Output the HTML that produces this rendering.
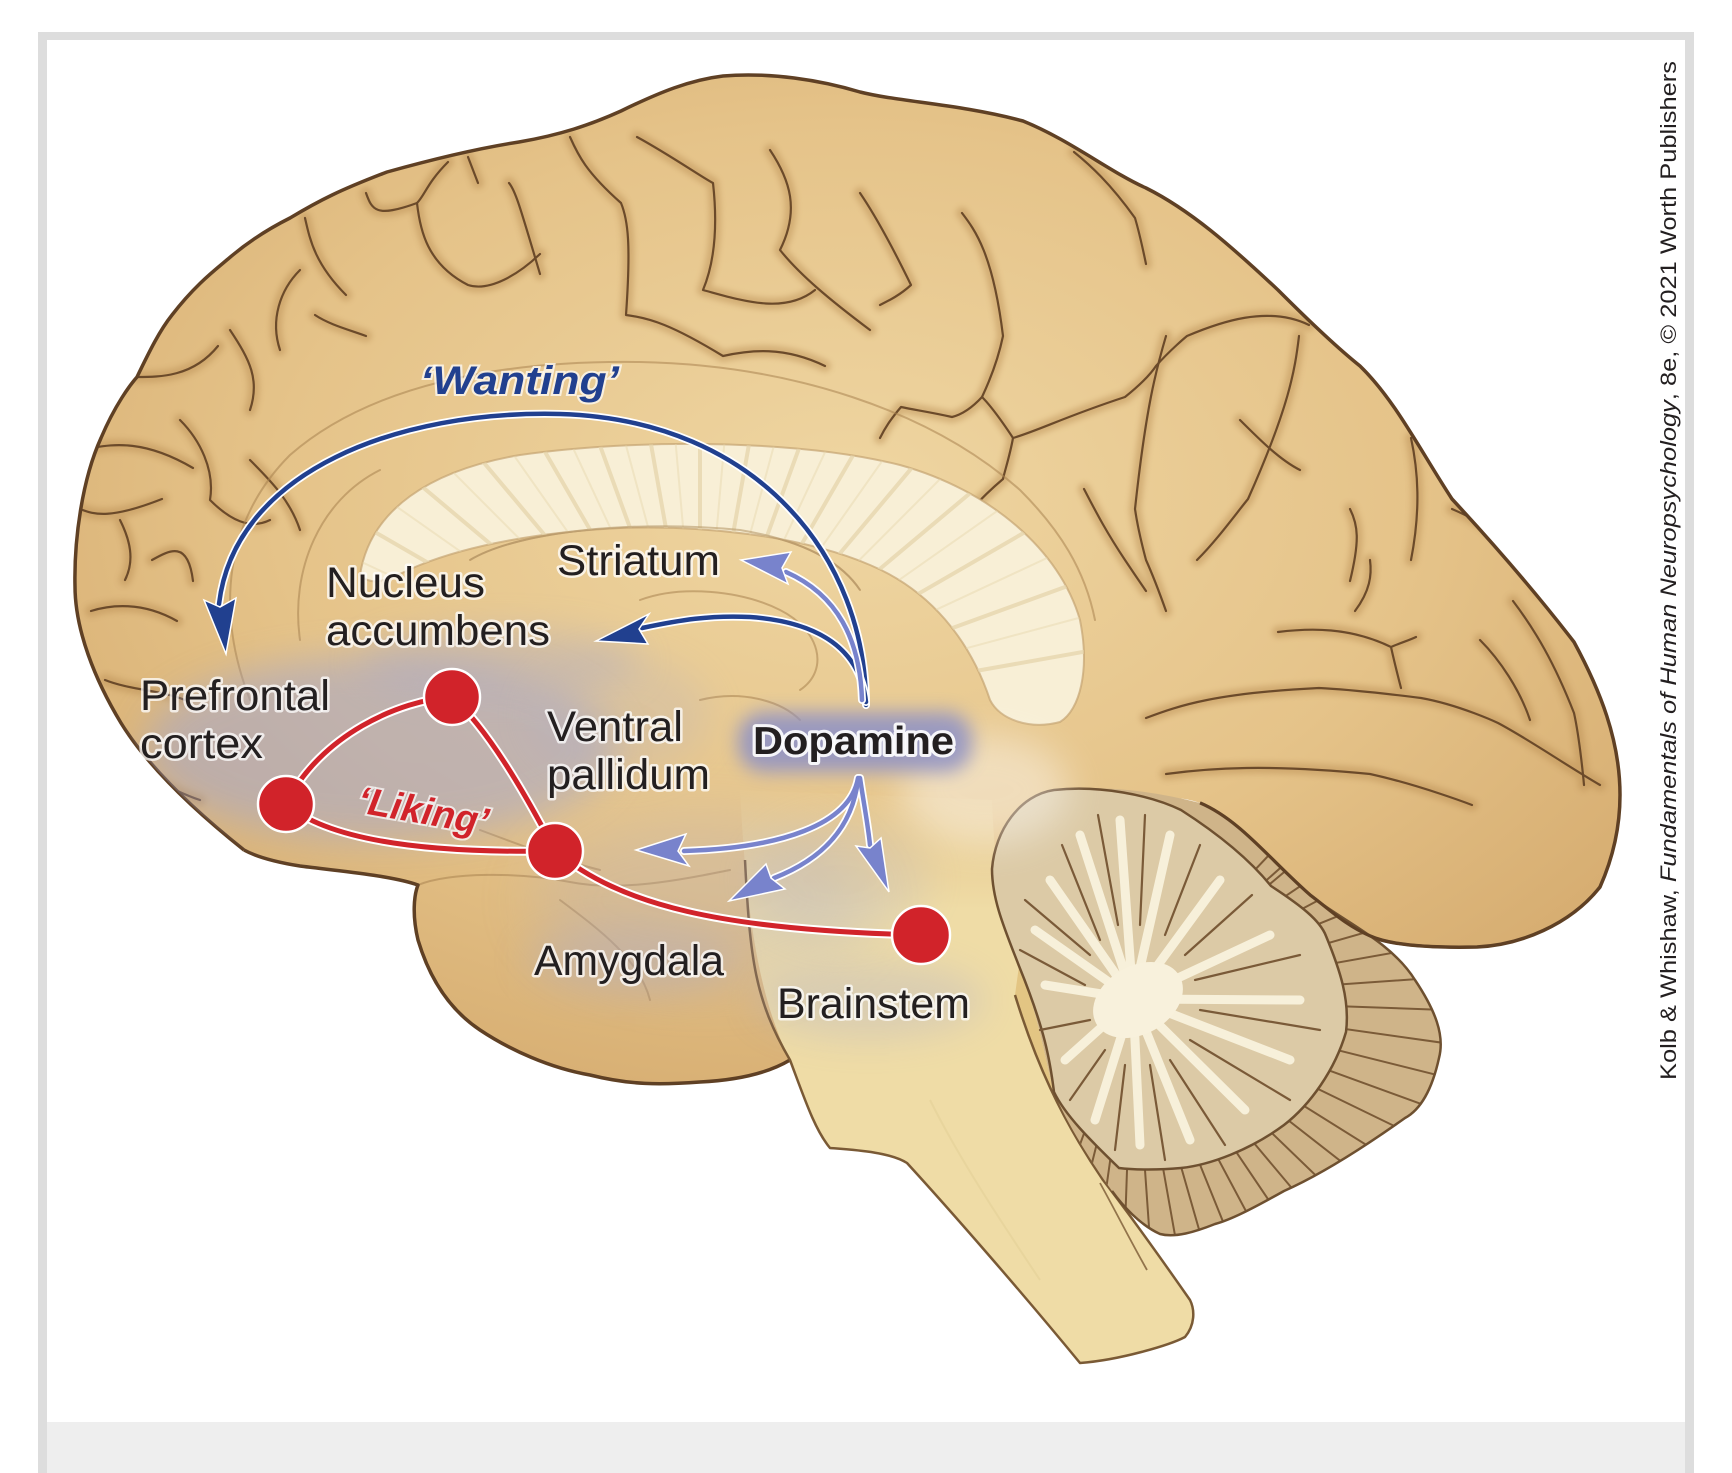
<!DOCTYPE html>
<html>
<head>
<meta charset="utf-8">
<style>
  html,body{margin:0;padding:0;background:#fff;}
  body{width:1732px;height:1473px;overflow:hidden;position:relative;}
  svg{position:absolute;left:0;top:0;display:block;}
  .lbl{font-family:"Liberation Sans Narrow","Liberation Sans",sans-serif;fill:#231f20;stroke:#ffffff;stroke-opacity:0.75;stroke-width:5;stroke-linejoin:round;paint-order:stroke;}
</style>
</head>
<body>
<svg xmlns="http://www.w3.org/2000/svg" width="1732" height="1473" viewBox="0 0 1732 1473">
<defs>
  <filter id="b3" x="-20%" y="-20%" width="140%" height="140%"><feGaussianBlur stdDeviation="3"/></filter>
  <filter id="b9" x="-50%" y="-50%" width="200%" height="200%"><feGaussianBlur stdDeviation="9"/></filter>
  <filter id="b18" x="-60%" y="-60%" width="220%" height="220%"><feGaussianBlur stdDeviation="18"/></filter>
  <filter id="b28" x="-60%" y="-60%" width="220%" height="220%"><feGaussianBlur stdDeviation="28"/></filter>
  <radialGradient id="cg" cx="0.5" cy="0.42" r="0.62">
    <stop offset="0" stop-color="#efd6a2"/>
    <stop offset="0.6" stop-color="#e5c389"/>
    <stop offset="1" stop-color="#d7ae72"/>
  </radialGradient>
  <linearGradient id="bsg" gradientUnits="userSpaceOnUse" x1="0" y1="780" x2="0" y2="910">
    <stop offset="0" stop-color="#efdca6" stop-opacity="0"/>
    <stop offset="1" stop-color="#efdca6" stop-opacity="1"/>
  </linearGradient>
  <clipPath id="cerClip">
    <path d="M244,850 C200,815 150,770 121,723 C95,680 75,630 75,586 C74,540 82,480 101,438 C115,405 130,385 137,377 C150,350 160,330 172,315 C195,285 215,270 228,259 C250,240 270,228 290,218 C320,200 340,190 387,172 C430,160 480,148 519,142 C560,135 590,125 621,111 C660,92 690,80 723,76 C770,72 820,80 860,92 C900,102 960,104 1023,121 C1070,140 1110,172 1146,188 C1190,210 1230,245 1278,290 C1310,322 1340,350 1360,366 C1395,400 1420,450 1452,499 C1490,540 1530,585 1574,642 C1600,690 1620,740 1620,795 C1620,830 1612,860 1600,887 C1570,925 1520,945 1477,947 C1430,948 1390,945 1370,936 C1345,925 1330,910 1310,895 C1270,860 1240,820 1200,803 C1150,785 1120,820 1100,870 L1030,1000 L900,1000 L790,1060 C770,1072 740,1080 700,1082 C660,1085 630,1085 590,1075 C550,1068 510,1050 480,1030 C450,1010 430,980 418,940 C412,915 414,895 418,885 C390,875 330,870 300,866 C275,862 255,856 244,850 Z"/>
  </clipPath>
  <clipPath id="brainClip">
    <path d="M244,850 C200,815 150,770 121,723 C95,680 75,630 75,586 C74,540 82,480 101,438 C115,405 130,385 137,377 C150,350 160,330 172,315 C195,285 215,270 228,259 C250,240 270,228 290,218 C320,200 340,190 387,172 C430,160 480,148 519,142 C560,135 590,125 621,111 C660,92 690,80 723,76 C770,72 820,80 860,92 C900,102 960,104 1023,121 C1070,140 1110,172 1146,188 C1190,210 1230,245 1278,290 C1310,322 1340,350 1360,366 C1395,400 1420,450 1452,499 C1490,540 1530,585 1574,642 C1600,690 1620,740 1620,795 C1620,830 1612,860 1600,887 C1570,925 1520,945 1477,947 C1430,948 1390,945 1370,936 C1345,925 1330,910 1310,895 C1270,860 1240,820 1200,803 C1150,785 1120,820 1100,870 L1030,1000 L900,1000 L790,1060 C770,1072 740,1080 700,1082 C660,1085 630,1085 590,1075 C550,1068 510,1050 480,1030 C450,1010 430,980 418,940 C412,915 414,895 418,885 C390,875 330,870 300,866 C275,862 255,856 244,850 Z"/>
    <path d="M740,790 C745,880 752,985 790,1060 C805,1100 815,1130 830,1148 C855,1150 890,1152 907,1163 C950,1210 1020,1290 1080,1363 C1120,1360 1170,1345 1185,1337 C1195,1325 1195,1310 1190,1300 C1160,1257 1135,1220 1115,1192 C1090,1160 1065,1120 1054,1092 C1045,1060 1040,1020 1019,966 C1005,930 995,880 992,800 Z"/>
    <path d="M1054,790 C1100,785 1150,790 1200,803 C1240,820 1270,860 1310,895 C1340,920 1390,940 1415,980 C1435,1010 1445,1035 1439,1058 C1432,1090 1420,1110 1405,1118 C1360,1150 1320,1175 1284,1191 C1250,1210 1230,1220 1215,1224 C1195,1232 1175,1238 1160,1234 C1140,1225 1122,1205 1112,1191 C1090,1160 1065,1120 1054,1092 C1045,1060 1040,1020 1019,966 C1005,930 992,900 992,869 C995,830 1020,795 1054,790 Z"/>
  </clipPath>
  <clipPath id="paleClip">
    <path d="M360,575 C370,510 430,470 520,455 C640,438 800,440 900,465 C990,490 1060,550 1080,620 C1090,670 1080,710 1060,722 C1030,730 1000,720 990,700 C970,640 930,590 870,565 C800,535 700,525 620,528 C540,532 470,545 420,565 C395,575 375,590 360,575 Z"/>
  </clipPath>
  <clipPath id="cbClip">
    <path d="M1054,790 C1100,785 1150,790 1200,803 C1240,820 1270,860 1310,895 C1340,920 1390,940 1415,980 C1435,1010 1445,1035 1439,1058 C1432,1090 1420,1110 1405,1118 C1360,1150 1320,1175 1284,1191 C1250,1210 1230,1220 1215,1224 C1195,1232 1175,1238 1160,1234 C1140,1225 1122,1205 1112,1191 C1090,1160 1065,1120 1054,1092 C1045,1060 1040,1020 1019,966 C1005,930 992,900 992,869 C995,830 1020,795 1054,790 Z"/>
  </clipPath>
</defs>

<!-- frame -->
<rect x="38" y="32" width="1656" height="1441" fill="#dddddd"/>
<rect x="47" y="40" width="1638" height="1382" fill="#ffffff"/>
<rect x="47" y="1422" width="1638" height="51" fill="#eeeeee"/>

<!-- cerebrum -->
<path d="M244,850 C200,815 150,770 121,723 C95,680 75,630 75,586 C74,540 82,480 101,438 C115,405 130,385 137,377 C150,350 160,330 172,315 C195,285 215,270 228,259 C250,240 270,228 290,218 C320,200 340,190 387,172 C430,160 480,148 519,142 C560,135 590,125 621,111 C660,92 690,80 723,76 C770,72 820,80 860,92 C900,102 960,104 1023,121 C1070,140 1110,172 1146,188 C1190,210 1230,245 1278,290 C1310,322 1340,350 1360,366 C1395,400 1420,450 1452,499 C1490,540 1530,585 1574,642 C1600,690 1620,740 1620,795 C1620,830 1612,860 1600,887 C1570,925 1520,945 1477,947 C1430,948 1390,945 1370,936 C1345,925 1330,910 1310,895 C1270,860 1240,820 1200,803 C1150,785 1120,820 1100,870 L1030,1000 L900,1000 L790,1060 C770,1072 740,1080 700,1082 C660,1085 630,1085 590,1075 C550,1068 510,1050 480,1030 C450,1010 430,980 418,940 C412,915 414,895 418,885 C390,875 330,870 300,866 C275,862 255,856 244,850 Z" fill="url(#cg)"/>

<!-- sulci shading -->
<g clip-path="url(#cerClip)" fill="none" stroke-linecap="round" stroke-linejoin="round">
  <g stroke="#b98d52" stroke-width="12" opacity="0.45" filter="url(#b3)">
    <path d="M305,218 C310,240 315,264 346,295"/>
    <path d="M366,193 C372,210 376,218 417,203 C425,195 427,183 448,162"/>
    <path d="M417,203 C420,230 427,264 468,285 C490,292 519,274 540,254"/>
    <path d="M509,183 C515,190 519,203 540,274"/>
    <path d="M468,157 L478,183"/>
    <path d="M315,315 C330,325 350,330 366,336"/>
    <path d="M570,137 C578,155 586,172 621,203 C628,220 631,244 626,315 C650,318 672,325 723,356 C750,350 784,346 825,366"/>
    <path d="M637,137 C670,155 703,178 713,183 C716,210 718,254 703,290 C740,300 784,315 815,290"/>
    <path d="M137,377 C160,377 193,377 218,346"/>
    <path d="M91,448 C110,445 142,438 193,468"/>
    <path d="M80,509 C95,515 111,519 162,499"/>
    <path d="M91,611 C110,605 142,601 177,621"/>
    <path d="M152,560 C170,550 188,540 193,581"/>
    <path d="M860,193 C875,215 891,244 911,285 C900,295 890,300 880,305"/>
    <path d="M962,213 C975,230 993,254 1003,336 C998,360 990,380 982,397 C970,410 960,415 952,417 C930,412 915,410 901,407 C890,420 885,428 880,438"/>
    <path d="M982,397 C995,410 1013,438 1013,438 C1010,455 1005,470 1003,479 C990,490 980,500 972,509"/>
    <path d="M1013,438 C1040,430 1064,417 1125,397 C1140,385 1150,375 1156,366 C1170,350 1187,336 1187,336 C1220,322 1268,305 1309,325"/>
    <path d="M1166,336 C1156,370 1146,407 1135,509 C1138,530 1146,560 1146,560 C1155,580 1166,611 1166,611"/>
    <path d="M1074,152 C1090,165 1110,183 1135,218 C1140,235 1146,264 1146,264"/>
    <path d="M1084,489 C1095,510 1105,530 1125,560 C1135,575 1146,591 1146,591"/>
    <path d="M1299,336 C1295,370 1289,407 1248,499 C1235,515 1217,540 1197,560"/>
    <path d="M1350,509 C1358,525 1360,540 1350,581"/>
    <path d="M1411,438 C1418,470 1421,509 1411,560"/>
    <path d="M1452,509 C1490,525 1523,550 1539,591"/>
    <path d="M1278,632 C1310,628 1350,627 1391,647 C1400,643 1410,640 1416,637 M1391,647 C1395,665 1401,688 1401,688"/>
    <path d="M1146,718 C1180,705 1217,693 1319,688 C1360,690 1421,698 1421,698 C1460,705 1498,723 1498,723 C1530,740 1564,764 1600,785"/>
    <path d="M1513,601 C1535,630 1554,662 1574,713 C1580,740 1584,785 1584,785"/>
    <path d="M1166,774 C1210,768 1268,764 1370,774 C1420,785 1472,805 1472,805"/>
    <path d="M1370,560 C1372,575 1370,591 1355,611"/>
    <path d="M1240,420 C1260,440 1280,460 1300,470"/>
    <path d="M1480,640 C1500,660 1520,690 1530,720"/>
    <path d="M230,330 C250,360 260,380 250,410"/>
    <path d="M120,520 C130,540 135,560 125,580"/>
    <path d="M105,680 C130,690 160,690 185,700"/>
    <path d="M770,150 C790,180 800,210 780,250 C800,275 830,300 870,330"/>
    <path d="M180,420 C200,440 215,470 210,500 C230,520 250,530 270,520"/>
    <path d="M110,760 C140,770 170,790 200,800"/>
    <path d="M300,270 C280,290 270,320 280,350"/>
    <path d="M250,460 C270,480 290,500 300,530"/>
  </g>
  <g stroke="#6b4a2a" stroke-width="2.2">
    <path d="M305,218 C310,240 315,264 346,295"/>
    <path d="M366,193 C372,210 376,218 417,203 C425,195 427,183 448,162"/>
    <path d="M417,203 C420,230 427,264 468,285 C490,292 519,274 540,254"/>
    <path d="M509,183 C515,190 519,203 540,274"/>
    <path d="M468,157 L478,183"/>
    <path d="M315,315 C330,325 350,330 366,336"/>
    <path d="M570,137 C578,155 586,172 621,203 C628,220 631,244 626,315 C650,318 672,325 723,356 C750,350 784,346 825,366"/>
    <path d="M637,137 C670,155 703,178 713,183 C716,210 718,254 703,290 C740,300 784,315 815,290"/>
    <path d="M137,377 C160,377 193,377 218,346"/>
    <path d="M91,448 C110,445 142,438 193,468"/>
    <path d="M80,509 C95,515 111,519 162,499"/>
    <path d="M91,611 C110,605 142,601 177,621"/>
    <path d="M152,560 C170,550 188,540 193,581"/>
    <path d="M860,193 C875,215 891,244 911,285 C900,295 890,300 880,305"/>
    <path d="M962,213 C975,230 993,254 1003,336 C998,360 990,380 982,397 C970,410 960,415 952,417 C930,412 915,410 901,407 C890,420 885,428 880,438"/>
    <path d="M982,397 C995,410 1013,438 1013,438 C1010,455 1005,470 1003,479 C990,490 980,500 972,509"/>
    <path d="M1013,438 C1040,430 1064,417 1125,397 C1140,385 1150,375 1156,366 C1170,350 1187,336 1187,336 C1220,322 1268,305 1309,325"/>
    <path d="M1166,336 C1156,370 1146,407 1135,509 C1138,530 1146,560 1146,560 C1155,580 1166,611 1166,611"/>
    <path d="M1074,152 C1090,165 1110,183 1135,218 C1140,235 1146,264 1146,264"/>
    <path d="M1084,489 C1095,510 1105,530 1125,560 C1135,575 1146,591 1146,591"/>
    <path d="M1299,336 C1295,370 1289,407 1248,499 C1235,515 1217,540 1197,560"/>
    <path d="M1350,509 C1358,525 1360,540 1350,581"/>
    <path d="M1411,438 C1418,470 1421,509 1411,560"/>
    <path d="M1452,509 C1490,525 1523,550 1539,591"/>
    <path d="M1278,632 C1310,628 1350,627 1391,647 C1400,643 1410,640 1416,637 M1391,647 C1395,665 1401,688 1401,688"/>
    <path d="M1146,718 C1180,705 1217,693 1319,688 C1360,690 1421,698 1421,698 C1460,705 1498,723 1498,723 C1530,740 1564,764 1600,785"/>
    <path d="M1513,601 C1535,630 1554,662 1574,713 C1580,740 1584,785 1584,785"/>
    <path d="M1166,774 C1210,768 1268,764 1370,774 C1420,785 1472,805 1472,805"/>
    <path d="M1370,560 C1372,575 1370,591 1355,611"/>
    <path d="M1240,420 C1260,440 1280,460 1300,470"/>
    <path d="M1480,640 C1500,660 1520,690 1530,720"/>
    <path d="M230,330 C250,360 260,380 250,410"/>
    <path d="M120,520 C130,540 135,560 125,580"/>
    <path d="M105,680 C130,690 160,690 185,700"/>
    <path d="M770,150 C790,180 800,210 780,250 C800,275 830,300 870,330"/>
    <path d="M180,420 C200,440 215,470 210,500 C230,520 250,530 270,520"/>
    <path d="M110,760 C140,770 170,790 200,800"/>
    <path d="M300,270 C280,290 270,320 280,350"/>
    <path d="M250,460 C270,480 290,500 300,530"/>
  </g>
  <!-- faint cingulate contours -->
  <g stroke="#a98350" stroke-width="2" opacity="0.55">
    <path d="M250,700 C215,610 225,520 290,455 C370,385 500,360 640,362 C790,365 930,410 1020,490 C1060,530 1085,570 1095,620"/>
    <path d="M300,640 C290,570 320,500 380,470"/>
    <path d="M418,885 C450,872 520,872 570,882 C620,892 680,880 730,870"/>
    <path d="M470,560 C520,530 640,520 740,530 C800,540 840,560 860,590"/>
    <path d="M640,600 C680,585 740,590 780,610 C820,630 830,670 800,690"/>
    <path d="M700,700 C740,690 780,700 800,720"/>
    <path d="M560,900 C600,930 640,960 650,1000"/>
    <path d="M480,830 C520,845 560,860 600,870"/>
  </g>
</g>

<!-- cerebrum outline -->
<path d="M244,850 C200,815 150,770 121,723 C95,680 75,630 75,586 C74,540 82,480 101,438 C115,405 130,385 137,377 C150,350 160,330 172,315 C195,285 215,270 228,259 C250,240 270,228 290,218 C320,200 340,190 387,172 C430,160 480,148 519,142 C560,135 590,125 621,111 C660,92 690,80 723,76 C770,72 820,80 860,92 C900,102 960,104 1023,121 C1070,140 1110,172 1146,188 C1190,210 1230,245 1278,290 C1310,322 1340,350 1360,366 C1395,400 1420,450 1452,499 C1490,540 1530,585 1574,642 C1600,690 1620,740 1620,795 C1620,830 1612,860 1600,887 C1570,925 1520,945 1477,947 C1430,948 1390,945 1370,936 C1345,925 1330,910 1310,895 C1270,860 1240,820 1200,803" fill="none" stroke="#5f4024" stroke-width="3.5" stroke-linejoin="round"/>
<path d="M790,1060 C770,1072 740,1080 700,1082 C660,1085 630,1085 590,1075 C550,1068 510,1050 480,1030 C450,1010 430,980 418,940 C412,915 414,895 418,885 C390,875 330,870 300,866 C275,862 255,856 244,850" fill="none" stroke="#5f4024" stroke-width="3.5" stroke-linejoin="round"/>

<!-- pale corpus callosum region -->
<path d="M360,575 C370,510 430,470 520,455 C640,438 800,440 900,465 C990,490 1060,550 1080,620 C1090,670 1080,710 1060,722 C1030,730 1000,720 990,700 C970,640 930,590 870,565 C800,535 700,525 620,528 C540,532 470,545 420,565 C395,575 375,590 360,575 Z" fill="#f8efd6" stroke="#c4a472" stroke-width="2" stroke-opacity="0.7"/>
<g clip-path="url(#paleClip)" stroke="#e6d5ab" stroke-width="4" opacity="0.75" fill="none">
  <path d="M700,720 L306,650 M700,720 L324,583 M700,720 L354,520 M700,720 L394,463 M700,720 L443,414 M700,720 L500,374 M700,720 L563,344 M700,720 L630,326 M700,720 L700,320 M700,720 L770,326 M700,720 L837,344 M700,720 L900,374 M700,720 L957,414 M700,720 L1006,463 M700,720 L1046,520 M700,720 L1076,583 M700,720 L1094,650"/>
  <path d="M700,720 L314,616 M700,720 L338,551 M700,720 L373,490 M700,720 L418,437 M700,720 L470,393 M700,720 L531,358 M700,720 L596,334 M700,720 L665,322 M700,720 L735,322 M700,720 L804,334 M700,720 L869,358 M700,720 L930,393 M700,720 L982,437 M700,720 L1027,490 M700,720 L1062,551 M700,720 L1086,616" stroke-width="2" opacity="0.6"/>
</g>
<path d="M470,560 C520,530 640,520 740,530 C800,540 840,560 860,590" fill="none" stroke="#b8996a" stroke-width="2" opacity="0.6"/>

<!-- brainstem -->
<path d="M740,790 C745,880 752,985 790,1060 C805,1100 815,1130 830,1148 C855,1150 890,1152 907,1163 C950,1210 1020,1290 1080,1363 C1120,1360 1170,1345 1185,1337 C1195,1325 1195,1310 1190,1300 C1160,1257 1135,1220 1115,1192 C1090,1160 1065,1120 1054,1092 C1045,1060 1040,1020 1019,966 C1005,930 995,880 992,800 Z" fill="url(#bsg)"/>
<path d="M1015,995 C1035,1060 1060,1117 1103,1180 L1115,1192 C1090,1160 1065,1120 1054,1092 C1045,1060 1040,1020 1019,966 Z" fill="#e0bf7a" opacity="0.8"/>
<path d="M745,860 C750,960 755,1000 790,1060 C805,1100 815,1130 830,1148 C855,1150 890,1152 907,1163 C950,1210 1020,1290 1080,1363 C1120,1360 1170,1345 1185,1337 C1195,1325 1195,1310 1190,1300 C1160,1257 1130,1215 1103,1180 C1060,1117 1035,1060 1015,995" fill="none" stroke="#7a5a35" stroke-width="2.5" stroke-linejoin="round"/>
<path d="M1100,1183 C1115,1210 1130,1240 1147,1270" fill="none" stroke="#7a5a35" stroke-width="1.8" opacity="0.8"/>
<path d="M930,1100 C960,1160 1000,1220 1040,1280" fill="none" stroke="#e6d29a" stroke-width="2" opacity="0.7"/>

<!-- cerebellum body (folia) -->
<path d="M1054,790 C1100,785 1150,790 1200,803 C1240,820 1270,860 1310,895 C1340,920 1390,940 1415,980 C1435,1010 1445,1035 1439,1058 C1432,1090 1420,1110 1405,1118 C1360,1150 1320,1175 1284,1191 C1250,1210 1230,1220 1215,1224 C1195,1232 1175,1238 1160,1234 C1140,1225 1122,1205 1112,1191 C1090,1160 1065,1120 1054,1092 C1045,1060 1040,1020 1019,966 C1005,930 992,900 992,869 C995,830 1020,795 1054,790 Z" fill="#cfb489"/>
<g clip-path="url(#cbClip)" stroke="#7b5b38" stroke-width="2" fill="none">
  <path d="M1133,999 L1371,747 M1133,999 L1405,757 M1133,999 L1439,742 M1133,999 L1465,775 M1133,999 L1486,811 M1133,999 L1504,849 M1133,999 L1517,889 M1133,999 L1527,929 M1133,999 L1532,971 M1133,999 L1533,1013 M1133,999 L1529,1055 M1133,999 L1521,1096 M1133,999 L1509,1136 M1133,999 L1493,1174 M1133,999 L1472,1211 M1133,999 L1448,1245 M1133,999 L1421,1277 M1133,999 L1390,1305 M1133,999 L1357,1331 M1133,999 L1321,1352 M1133,999 L1283,1370 M1133,999 L1243,1383 M1133,999 L1203,1393 M1133,999 L1161,1398 M1133,999 L1119,1399 M1133,999 L1077,1395 M1133,999 L1036,1387 M1133,999 L996,1375"/>
</g>
<path d="M1310,895 C1340,920 1390,940 1415,980 C1435,1010 1445,1035 1439,1058 C1432,1090 1420,1110 1405,1118 C1360,1150 1320,1175 1284,1191 C1250,1210 1230,1220 1215,1224 C1195,1232 1175,1238 1160,1234 C1140,1225 1122,1205 1112,1191" fill="none" stroke="#6e5030" stroke-width="2.5"/>
<path d="M1477,947 C1430,948 1390,945 1370,936 C1345,925 1330,910 1310,895 C1270,860 1240,820 1200,803" fill="none" stroke="#5f4024" stroke-width="3"/>
<!-- cerebellum cut face -->
<path d="M1054,790 C1100,785 1150,795 1181,810 C1220,835 1250,860 1271,886 C1300,905 1320,920 1326,936 C1340,970 1350,1000 1346,1032 C1335,1070 1310,1105 1284,1125 C1250,1150 1210,1165 1181,1168 C1160,1170 1135,1170 1119,1168 C1090,1140 1065,1115 1054,1092 C1050,1060 1045,1030 1019,966 C1005,930 992,900 992,869 C995,830 1020,795 1054,790 Z" fill="#dccaa6" stroke="#6e5030" stroke-width="2.5"/>
<g stroke="#f7f0da" stroke-linecap="round" fill="none">
  <path d="M1133,999 L1050,880 M1133,999 L1080,835 M1133,999 L1120,820 M1133,999 L1170,835 M1133,999 L1220,880 M1133,999 L1270,935 M1133,999 L1300,1000 M1133,999 L1290,1060 M1133,999 L1245,1110 M1133,999 L1190,1140 M1133,999 L1140,1145 M1133,999 L1095,1120 M1133,999 L1065,1060 M1133,999 L1045,985 M1133,999 L1035,930" stroke-width="9"/>
</g>
<ellipse cx="1138" cy="1000" rx="48" ry="34" transform="rotate(-30 1138 1000)" fill="#f8f1dc"/>
<g stroke="#7a5a38" stroke-width="2.2" fill="none" stroke-linecap="round">
  <path d="M1100,940 L1062,845 M1118,925 L1098,815 M1140,925 L1145,815 M1165,935 L1200,845 M1185,955 L1252,895 M1195,980 L1300,955 M1200,1010 L1320,1030 M1190,1040 L1290,1100 M1170,1060 L1225,1145 M1150,1065 L1165,1160 M1125,1065 L1115,1150 M1105,1050 L1070,1100 M1090,1020 L1040,1030 M1085,985 L1020,950 M1090,955 L1025,900"/>
</g>

<!-- hazes (clipped to brain) -->
<g clip-path="url(#brainClip)">
  <ellipse cx="985" cy="790" rx="85" ry="55" fill="#ffffff" opacity="0.4" filter="url(#b18)"/>
  <ellipse cx="380" cy="748" rx="235" ry="92" fill="#a3a5cc" opacity="0.55" filter="url(#b18)"/>
  <ellipse cx="500" cy="662" rx="140" ry="32" fill="#a3a5cc" opacity="0.35" filter="url(#b18)"/>
  <ellipse cx="700" cy="900" rx="170" ry="85" fill="#a9abcc" opacity="0.22" filter="url(#b28)"/>
  <ellipse cx="630" cy="960" rx="105" ry="35" fill="#a9abcc" opacity="0.3" filter="url(#b18)"/>
  <ellipse cx="870" cy="1000" rx="115" ry="38" fill="#a9abcc" opacity="0.3" filter="url(#b18)"/>
  <ellipse cx="620" cy="715" rx="90" ry="60" fill="#a9abcc" opacity="0.2" filter="url(#b18)"/>
  <ellipse cx="840" cy="880" rx="90" ry="60" fill="#a9abcc" opacity="0.18" filter="url(#b18)"/>
</g>
<rect x="738" y="712" width="234" height="60" rx="26" fill="#8d91c6" opacity="0.85" filter="url(#b9)"/>

<!-- wanting arrows (navy) -->
<g fill="none" stroke-linecap="round">
  <path d="M866,705 C866,560 760,420 560,414 C400,410 235,470 219,604" stroke="#ffffff" stroke-width="8"/>
  <path d="M866,705 C866,560 760,420 560,414 C400,410 235,470 219,604" stroke="#21408f" stroke-width="4.5"/>
  <path d="M866,702 C860,650 820,622 750,617 C710,615 680,620 642,628" stroke="#ffffff" stroke-width="8"/>
  <path d="M866,702 C860,650 820,622 750,617 C710,615 680,620 642,628" stroke="#21408f" stroke-width="4.5"/>
</g>
<polygon points="226,654 204,600 220,607 236,598" fill="#21408f" stroke="#fff" stroke-width="1.5"/>
<polygon points="596,641 649,614 639,629 648,644" fill="#21408f" stroke="#fff" stroke-width="1.5"/>

<!-- light blue dopamine arrows -->
<g fill="none" stroke-linecap="round">
  <g stroke="#ffffff" stroke-width="8">
    <path d="M862,700 C860,640 838,595 786,572"/>
    <path d="M858,778 C850,825 780,848 684,851"/>
    <path d="M858,780 C852,830 820,860 774,878"/>
    <path d="M860,778 C864,805 868,825 870,845"/>
  </g>
  <g stroke="#7883cc" stroke-width="4.5">
    <path d="M862,700 C860,640 838,595 786,572"/>
    <path d="M858,778 C850,825 780,848 684,851"/>
    <path d="M858,780 C852,830 820,860 774,878"/>
    <path d="M860,778 C864,805 868,825 870,845"/>
  </g>
</g>
<g fill="#7883cc" stroke="#fff" stroke-width="1.5">
  <polygon points="741,560 791,552 782,568 788,584"/>
  <polygon points="636,850 686,834 678,851 689,866"/>
  <polygon points="729,901 766,864 771,878 785,889"/>
  <polygon points="889,892 856,846 870,848 881,838"/>
</g>

<!-- liking network (red) -->
<g fill="none" stroke-linecap="round">
  <g stroke="#ffffff" stroke-width="9">
    <path d="M452,697 C400,700 320,735 286,804"/>
    <path d="M452,697 Q495,735 555,851"/>
    <path d="M286,804 Q345,855 555,851"/>
    <path d="M555,851 C620,905 720,930 921,935"/>
  </g>
  <g stroke="#d1232a" stroke-width="5">
    <path d="M452,697 C400,700 320,735 286,804"/>
    <path d="M452,697 Q495,735 555,851"/>
    <path d="M286,804 Q345,855 555,851"/>
    <path d="M555,851 C620,905 720,930 921,935"/>
  </g>
</g>
<g fill="#d1232a" stroke="#ffffff" stroke-width="2.5">
  <circle cx="452" cy="697" r="28"/>
  <circle cx="286" cy="804" r="28"/>
  <circle cx="555" cy="851" r="28"/>
  <circle cx="921" cy="935" r="29"/>
</g>

<!-- labels -->
<text class="lbl" x="557" y="575" font-size="43" textLength="163" lengthAdjust="spacingAndGlyphs">Striatum</text>
<text class="lbl" x="326" y="597" font-size="43" textLength="159" lengthAdjust="spacingAndGlyphs">Nucleus</text>
<text class="lbl" x="326" y="645" font-size="43" textLength="224" lengthAdjust="spacingAndGlyphs">accumbens</text>
<text class="lbl" x="140" y="710" font-size="43" textLength="190" lengthAdjust="spacingAndGlyphs">Prefrontal</text>
<text class="lbl" x="140" y="758" font-size="43" textLength="123" lengthAdjust="spacingAndGlyphs">cortex</text>
<text class="lbl" x="547" y="741" font-size="43" textLength="136" lengthAdjust="spacingAndGlyphs">Ventral</text>
<text class="lbl" x="547" y="789" font-size="43" textLength="163" lengthAdjust="spacingAndGlyphs">pallidum</text>
<text class="lbl" x="534" y="975" font-size="43" textLength="190" lengthAdjust="spacingAndGlyphs">Amygdala</text>
<text class="lbl" x="777" y="1018" font-size="43" textLength="193" lengthAdjust="spacingAndGlyphs">Brainstem</text>
<text class="lbl" x="753" y="754" font-size="39" font-weight="bold" textLength="201" lengthAdjust="spacingAndGlyphs" style="stroke-width:6;stroke-opacity:0.9">Dopamine</text>
<text x="420" y="394" font-family="'Liberation Sans Narrow','Liberation Sans',sans-serif" font-size="40" font-weight="bold" font-style="italic" fill="#21408f" stroke="#ffffff" stroke-width="4" stroke-opacity="0.7" paint-order="stroke" textLength="199" lengthAdjust="spacingAndGlyphs">‘Wanting’</text>
<text transform="translate(356,812) rotate(10)" font-family="'Liberation Sans Narrow','Liberation Sans',sans-serif" font-size="38" font-weight="bold" font-style="italic" fill="#d1232a" stroke="#ffffff" stroke-width="4" stroke-opacity="0.7" paint-order="stroke" textLength="132" lengthAdjust="spacingAndGlyphs">‘Liking’</text>

<!-- credit -->
<text transform="translate(1676,1080) rotate(-90)" font-family="'Liberation Sans Narrow','Liberation Sans',sans-serif" font-size="22" fill="#231f20" textLength="1019" lengthAdjust="spacingAndGlyphs">Kolb &amp; Whishaw, <tspan font-style="italic">Fundamentals of Human Neuropsychology</tspan>, 8e, © 2021 Worth Publishers</text>
</svg>
</body>
</html>
